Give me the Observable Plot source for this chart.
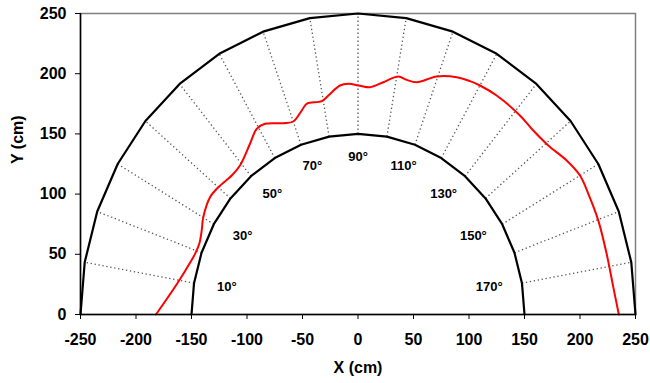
<!DOCTYPE html>
<html><head><meta charset="utf-8">
<script src="https://cdn.jsdelivr.net/npm/d3@7"></script>
<script src="https://cdn.jsdelivr.net/npm/@observablehq/plot@0.6"></script>
<style>body{margin:0;background:#fff}</style>
</head><body><div id="chart"></div>
<script>
const xTicks = [-250, -200, -150, -100, -50, 0, 50, 100, 150, 200, 250];
const yTicks = [0, 50, 100, 150, 200, 250];
const ringRadii = [150, 250];
const ringAngles = [0, 10, 20, 30, 40, 50, 60, 70, 80, 90, 100, 110, 120, 130, 140, 150, 160, 170, 180];
const spokeAngles = [10, 20, 30, 40, 50, 60, 70, 80, 90, 100, 110, 120, 130, 140, 150, 160, 170];
const labelAngles = [10, 30, 50, 70, 90, 110, 130, 150, 170];
const redX = [-182, -163, -150, -146.8, -143, -140.8, -139.4, -133.3, -125.8, -113.8, -106.3, -97.3, -91.3, -83.8, -67.3, -58.3, -50.7, -46.2, -32.7, -26.7, -16.2, -8.7, 1.8, 10.8, 22.8, 36.3, 43.9, 52.9, 70.9, 88.9, 100.9, 109.9, 124.9, 145.9, 157.9, 171.4, 188, 200, 207.5, 216.5, 224, 230, 235];
const redY = [0, 25.5, 45, 50.4, 58.7, 69.8, 80.8, 97.4, 105.7, 115.4, 123.8, 141.8, 154.2, 158.4, 158.9, 160.3, 169.4, 175, 177.2, 181.9, 190.2, 191.6, 190, 188.8, 192.9, 197.7, 194.9, 192.9, 197.7, 197.1, 193.8, 190.2, 181.9, 165.3, 152.8, 140.4, 127.9, 115.4, 100.2, 78, 50.4, 22.7, 0];

const rad = a => a * Math.PI / 180;
const px = (a, r) => -r * Math.cos(rad(a));
const py = (a, r) => r * Math.sin(rad(a));
const rings = ringRadii.flatMap(r => ringAngles.map(a => ({r, x: px(a, r), y: py(a, r)})));
const red = redX.map((x, i) => ({x, y: redY[i]}));

const chart = Plot.plot({
  width: 650, height: 383,
  marginLeft: 80, marginRight: 15, marginTop: 13, marginBottom: 69,
  style: {fontFamily: "'Liberation Sans', Arial, sans-serif", fontWeight: "bold", fontSize: "16px", color: "#000", background: "#fff"},
  x: {domain: [-250, 250]},
  y: {domain: [0, 250]},
  marks: [
    Plot.frame({stroke: "#808080", strokeWidth: 1.5}),
    Plot.link(spokeAngles, {
      x1: a => px(a, 150), y1: a => py(a, 150),
      x2: a => px(a, 250), y2: a => py(a, 250),
      stroke: "#555", strokeWidth: 1.3, strokeDasharray: "1.3,2.7"
    }),
    Plot.line(rings, {x: "x", y: "y", z: "r", stroke: "#000", strokeWidth: 2.2}),
    Plot.line(red, {x: "x", y: "y", stroke: "#ff0000", strokeWidth: 2, curve: "catmull-rom"}),
    Plot.text(labelAngles, {
      x: a => -120 * Math.cos(rad(a)), y: a => 131 * Math.sin(rad(a)),
      text: a => a + "°", fontSize: 13, fontWeight: "bold", fill: "#000"
    }),
    Plot.ruleX([-250], {stroke: "#000", strokeWidth: 1.5}),
    Plot.ruleY([0], {stroke: "#000", strokeWidth: 1.5}),
    Plot.axisX({ticks: xTicks, tickSize: 5, tickPadding: 14, label: null, fontSize: 16, tickFormat: d => String(d).replace("−", "-")}),
    Plot.axisY({ticks: yTicks, tickSize: 5, tickPadding: 9, label: null, fontSize: 16}),
    Plot.text(["X (cm)"], {frameAnchor: "bottom", dy: 58, fontSize: 16, fontWeight: "bold"}),
    Plot.text(["Y (cm)"], {frameAnchor: "left", dx: -63, rotate: -90, fontSize: 16, fontWeight: "bold"})
  ]
});
document.getElementById("chart").appendChild(chart);
</script>
</body></html>
